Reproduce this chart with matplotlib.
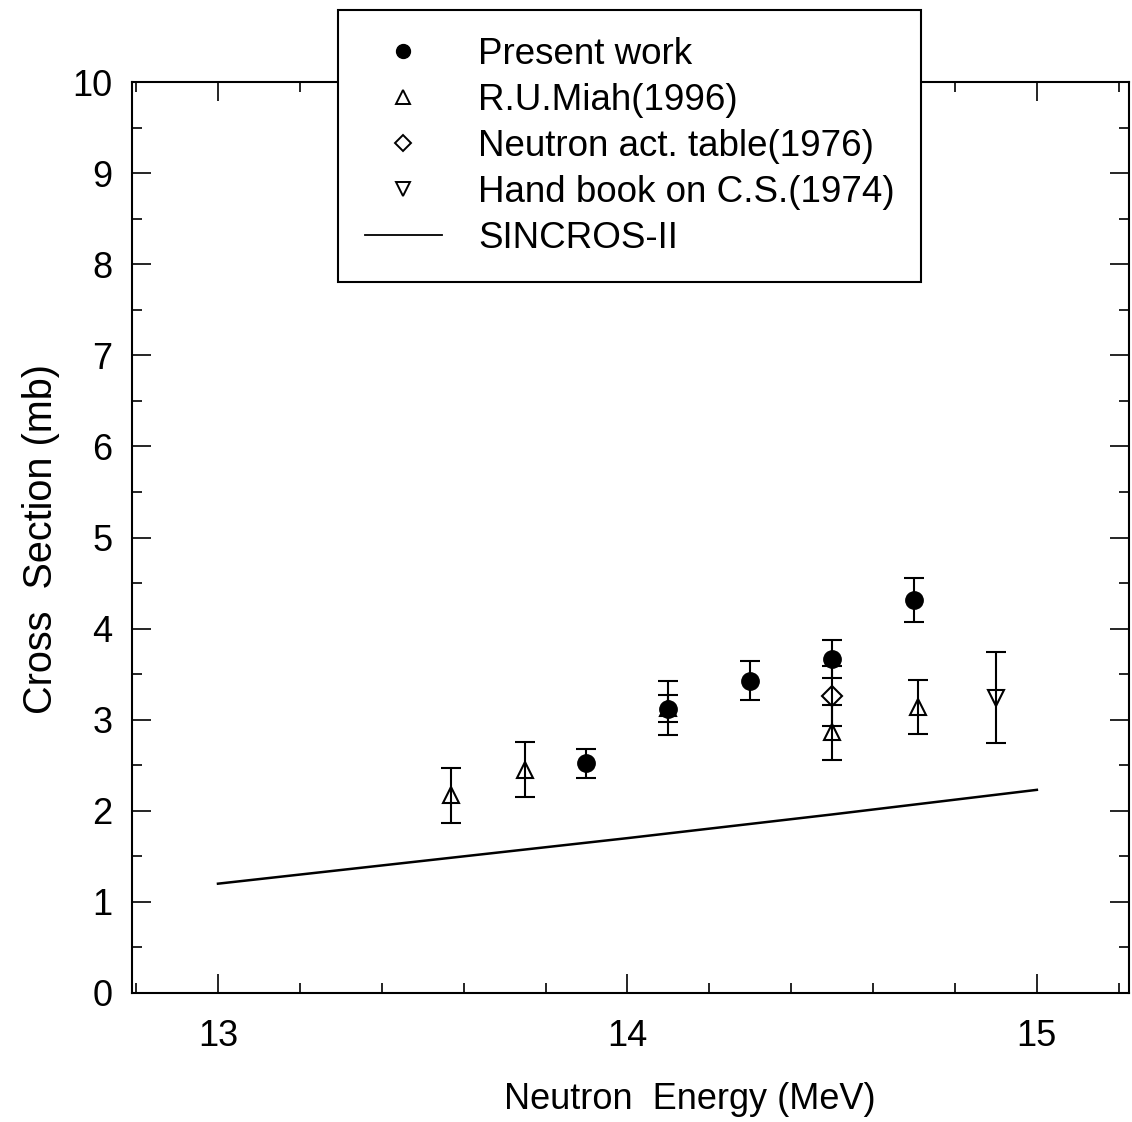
import matplotlib
matplotlib.use("Agg")
import matplotlib.pyplot as plt
from matplotlib.lines import Line2D
from matplotlib.ticker import MultipleLocator

plt.rcParams['font.family'] = ['Liberation Sans', 'DejaVu Sans']

# Present work
pw_x = [13.9, 14.1, 14.3, 14.5, 14.7]
pw_y = [2.52, 3.12, 3.43, 3.67, 4.31]
pw_err = [0.16, 0.15, 0.21, 0.21, 0.24]

# R.U.Miah (1996)
miah_x = [13.57, 13.75, 14.1, 14.5, 14.71]
miah_y = [2.17, 2.45, 3.13, 2.86, 3.14]
miah_err = [0.3, 0.3, 0.3, 0.3, 0.3]

# Neutron act. table (1976)
nat_x = [14.5]
nat_y = [3.26]
nat_err = [0.33]

# Hand book on C.S. (1974)
hb_x = [14.9]
hb_y = [3.24]
hb_err = [0.5]

# SINCROS-II
sin_x = [13.0, 13.5, 14.0, 14.5, 15.0]
sin_y = [1.2, 1.45, 1.70, 1.96, 2.23]

labels = ["Present work", "R.U.Miah(1996)", "Neutron act. table(1976)",
          "Hand book on C.S.(1974)", "SINCROS-II"]

W, H = 1132, 1122
fig = plt.figure(figsize=(W / 100, H / 100), dpi=100)
ax = fig.add_axes([132 / W, (H - 993) / H, (1129 - 132) / W, (993 - 82) / H])

eb = dict(ecolor='black', elinewidth=1.5, capsize=7.5, capthick=1.5, linestyle='none', color='black')
ax.errorbar(miah_x, miah_y, yerr=miah_err, marker='^', markersize=12,
            mfc='none', mec='black', mew=1.5, **eb)
ax.errorbar(nat_x, nat_y, yerr=nat_err, marker='D', markersize=10,
            mfc='none', mec='black', mew=1.5, **eb)
ax.errorbar(hb_x, hb_y, yerr=hb_err, marker='v', markersize=12,
            mfc='none', mec='black', mew=1.5, **eb)
ax.errorbar(pw_x, pw_y, yerr=pw_err, marker='o', markersize=12.5,
            mfc='black', mec='black', **eb)
ax.plot(sin_x, sin_y, color='black', linewidth=1.8)

ax.set_xlim(12.79, 15.225)
ax.set_ylim(0, 10)
ax.xaxis.set_major_locator(MultipleLocator(1))
ax.xaxis.set_minor_locator(MultipleLocator(0.2))
ax.yaxis.set_major_locator(MultipleLocator(1))
ax.yaxis.set_minor_locator(MultipleLocator(0.5))
ax.tick_params(which='both', direction='in', top=True, right=True, width=1.2, colors='black')
ax.tick_params(which='major', length=14, labelsize=26)
ax.tick_params(which='minor', length=7)
ax.tick_params(axis='x', which='major', pad=19)
ax.tick_params(axis='y', which='major', pad=14)
for s in ax.spines.values():
    s.set_linewidth(1.5)

ax.set_xlabel("Neutron  Energy (MeV)", fontsize=26)
ax.set_ylabel("Cross  Section (mb)", fontsize=28.5)
ax.xaxis.set_label_coords((690 - 132) / 997, -(1082 - 993) / 911)
ax.yaxis.set_label_coords(-(132 - 60) / 997, (993 - 539) / 911)

handles = [
    Line2D([], [], linestyle='none', marker='o', markersize=10, mfc='black', mec='black'),
    Line2D([], [], linestyle='none', marker='^', markersize=9.5, mfc='none', mec='black', mew=1.4),
    Line2D([], [], linestyle='none', marker='D', markersize=8, mfc='none', mec='black', mew=1.4),
    Line2D([], [], linestyle='none', marker='v', markersize=9.5, mfc='none', mec='black', mew=1.4),
    Line2D([], [], color='black', linewidth=1.3),
]
leg = ax.legend(handles, labels, loc='upper left',
                bbox_to_anchor=(338 / W, 1 - 10 / H), bbox_transform=fig.transFigure,
                borderaxespad=0, fontsize=26.5, frameon=True, fancybox=False,
                edgecolor='black', framealpha=1, handlelength=2.1,
                handletextpad=0.98, borderpad=0.72, labelspacing=0.3)
leg.get_frame().set_linewidth(1.5)

fig.savefig("out.png", dpi=100, facecolor='white')
